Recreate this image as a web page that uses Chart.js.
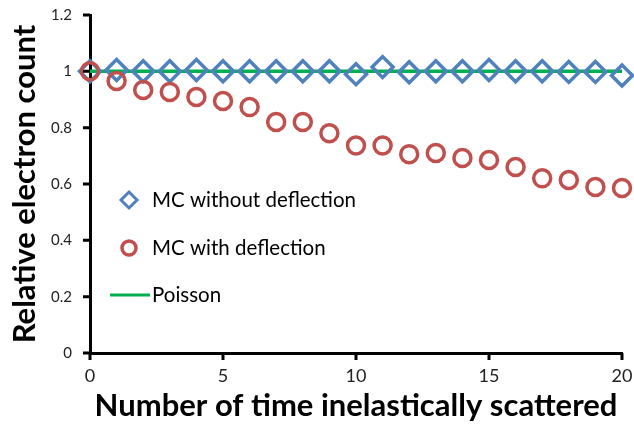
<!DOCTYPE html>
<html>
<head>
<meta charset="utf-8">
<script src="https://cdn.jsdelivr.net/npm/chart.js@4.4.0/dist/chart.umd.min.js"></script>
<style>
  html, body { margin: 0; padding: 0; background: #fff; }
  #wrap { width: 634px; height: 425px; }
</style>
</head>
<body>
<div id="wrap"><canvas id="chart" width="634" height="425"></canvas></div>
<script>
// data
const scatterCounts = [0, 1, 2, 3, 4, 5, 6, 7, 8, 9, 10, 11, 12, 13, 14, 15, 16, 17, 18, 19, 20];
const mcWithoutDeflection = [1.0, 1.005, 1.0, 1.0, 1.005, 1.0, 1.0, 1.0, 1.0, 1.0, 0.99, 1.015, 0.997, 1.0, 1.0, 1.005, 1.0, 1.0, 0.998, 0.998, 0.985];
const mcWithDeflection = [1.0, 0.966, 0.934, 0.927, 0.909, 0.895, 0.873, 0.82, 0.82, 0.78, 0.737, 0.737, 0.706, 0.71, 0.692, 0.685, 0.66, 0.62, 0.614, 0.589, 0.586];
const poisson = [1, 1, 1, 1, 1, 1, 1, 1, 1, 1, 1, 1, 1, 1, 1, 1, 1, 1, 1, 1, 1];
const xTicks = [0, 5, 10, 15, 20];
const yTicks = [0, 0.2, 0.4, 0.6, 0.8, 1, 1.2];

const FONT = 'Lato, "Open Sans", sans-serif';
const toXY = (arr) => arr.map((v, i) => ({ x: scatterCounts[i], y: v }));

// short outside tick marks on both axes
const tickMarks = {
  id: 'tickMarks',
  afterDraw(chart) {
    const ctx = chart.ctx;
    const xs = chart.scales.x, ys = chart.scales.y;
    const area = chart.chartArea;
    ctx.save();
    ctx.strokeStyle = '#000';
    ctx.lineWidth = 3;
    ctx.beginPath();
    xTicks.forEach(v => {
      const px = xs.getPixelForValue(v);
      ctx.moveTo(px, area.bottom);
      ctx.lineTo(px, area.bottom + 7);
    });
    yTicks.forEach(v => {
      const py = ys.getPixelForValue(v);
      ctx.moveTo(area.left, py);
      ctx.lineTo(area.left - 7, py);
    });
    ctx.stroke();
    ctx.restore();
  }
};

// legend drawn inside the plot area, like the original
const innerLegend = {
  id: 'innerLegend',
  afterDraw(chart) {
    const ctx = chart.ctx;
    const area = chart.chartArea;
    const ds = chart.data.datasets;
    const x0 = area.left + 39;
    const rows = [area.top + 185, area.top + 233, area.top + 280];
    ctx.save();
    ctx.font = '20.5px ' + FONT;
    ctx.fillStyle = '#000';
    ctx.textBaseline = 'middle';
    // diamond
    ctx.strokeStyle = ds[0].borderColor;
    ctx.lineWidth = 3;
    ctx.beginPath();
    ctx.moveTo(x0, rows[0] - 8);
    ctx.lineTo(x0 + 8, rows[0]);
    ctx.lineTo(x0, rows[0] + 8);
    ctx.lineTo(x0 - 8, rows[0]);
    ctx.closePath();
    ctx.stroke();
    ctx.fillText(ds[0].label, x0 + 23, rows[0]);
    // circle
    ctx.strokeStyle = ds[1].borderColor;
    ctx.lineWidth = 3.5;
    ctx.beginPath();
    ctx.arc(x0, rows[1], 7, 0, Math.PI * 2);
    ctx.stroke();
    ctx.fillText(ds[1].label, x0 + 23, rows[1]);
    // line
    ctx.strokeStyle = ds[2].borderColor;
    ctx.lineWidth = 3;
    ctx.beginPath();
    ctx.moveTo(x0 - 19, rows[2]);
    ctx.lineTo(x0 + 21, rows[2]);
    ctx.stroke();
    ctx.fillText(ds[2].label, x0 + 23, rows[2]);
    ctx.restore();
  }
};

new Chart(document.getElementById('chart'), {
  type: 'scatter',
  data: {
    datasets: [
      {
        label: 'MC without deflection',
        data: toXY(mcWithoutDeflection),
        pointStyle: 'rectRot',
        pointRadius: 10.5,
        borderWidth: 3.5,
        borderColor: '#4F81BD',
        backgroundColor: 'rgba(0,0,0,0)',
        clip: false,
        order: 2
      },
      {
        label: 'MC with deflection',
        data: toXY(mcWithDeflection),
        pointStyle: 'circle',
        pointRadius: 8.5,
        borderWidth: 3.5,
        borderColor: '#C0504D',
        backgroundColor: 'rgba(0,0,0,0)',
        clip: false,
        order: 1
      },
      {
        label: 'Poisson',
        data: toXY(poisson),
        showLine: true,
        pointRadius: 0,
        borderWidth: 3.5,
        borderColor: '#00B050',
        order: 3
      }
    ]
  },
  options: {
    responsive: false,
    animation: false,
    layout: { autoPadding: false, padding: { top: 15, right: 12, left: 6, bottom: 0 } },
    plugins: {
      legend: { display: false },
      tooltip: { enabled: false }
    },
    scales: {
      x: {
        type: 'linear',
        min: 0,
        max: 20,
        afterBuildTicks: (s) => { s.ticks = xTicks.map(v => ({ value: v })); },
        afterFit: (s) => { s.height = 72; s.paddingLeft = 0; s.paddingRight = 0; },
        border: { color: '#000', width: 3 },
        grid: { display: false },
        ticks: { color: '#222', font: { family: FONT, size: 18 }, padding: 4, maxRotation: 0 },
        title: {
          display: true,
          text: 'Number of time inelastically scattered',
          color: '#000',
          font: { family: FONT, size: 31, weight: 'bold' },
          padding: { top: 0, bottom: 0 }
        }
      },
      y: {
        min: 0,
        max: 1.2,
        afterBuildTicks: (s) => { s.ticks = yTicks.map(v => ({ value: v })); },
        afterFit: (s) => { s.width = 84; s.paddingTop = 0; s.paddingBottom = 0; },
        border: { color: '#000', width: 3 },
        grid: { display: false },
        ticks: {
          color: '#222',
          font: { family: FONT, size: 15 },
          padding: 10,
          callback: (v) => String(Math.round(v * 10) / 10)
        },
        title: {
          display: true,
          text: 'Relative electron count',
          color: '#000',
          font: { family: FONT, size: 31, weight: 'bold' },
          padding: { top: 0, bottom: 2 }
        }
      }
    }
  },
  plugins: [tickMarks, innerLegend]
});
</script>
</body>
</html>
